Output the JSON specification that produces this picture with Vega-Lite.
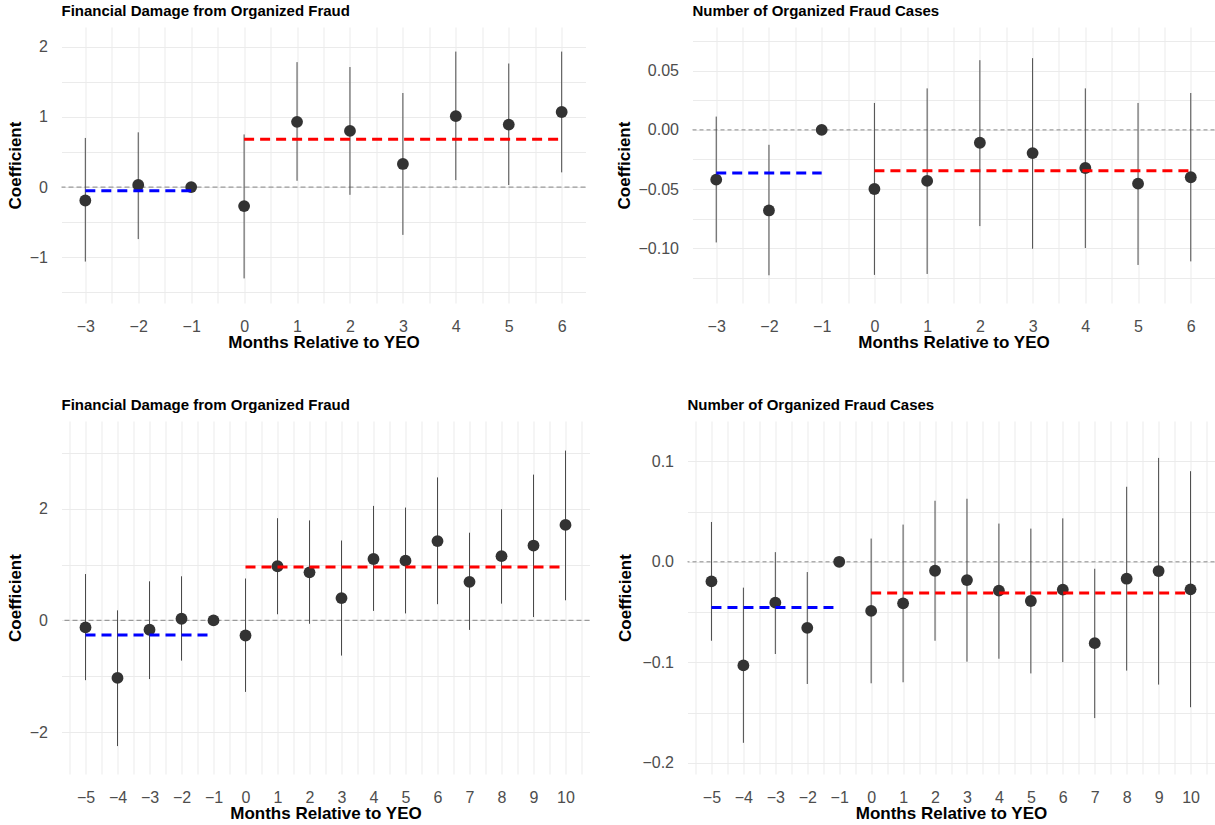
{
  "$schema": "https://vega.github.io/schema/vega-lite/v6.json",
  "padding": {"left": 6.5, "top": 4, "right": 0, "bottom": 0},
  "autosize": {"type": "pad"},
  "background": "white",
  "datasets": {
    "p1": [
      {"month": -3, "coef": -0.19, "lo": -1.06, "hi": 0.70},
      {"month": -2, "coef": 0.03, "lo": -0.74, "hi": 0.78},
      {"month": -1, "coef": 0, "lo": 0, "hi": 0},
      {"month": 0, "coef": -0.27, "lo": -1.30, "hi": 0.75},
      {"month": 1, "coef": 0.93, "lo": 0.09, "hi": 1.78},
      {"month": 2, "coef": 0.80, "lo": -0.11, "hi": 1.71},
      {"month": 3, "coef": 0.33, "lo": -0.68, "hi": 1.34},
      {"month": 4, "coef": 1.01, "lo": 0.10, "hi": 1.93},
      {"month": 5, "coef": 0.89, "lo": 0.03, "hi": 1.76},
      {"month": 6, "coef": 1.07, "lo": 0.21, "hi": 1.93}
    ],
    "s1": [
      {"period": "pre", "start": -3, "end": -1, "avg": -0.05},
      {"period": "post", "start": 0, "end": 6, "avg": 0.68}
    ],
    "p2": [
      {"month": -3, "coef": -0.042, "lo": -0.095, "hi": 0.0112},
      {"month": -2, "coef": -0.068, "lo": -0.1227, "hi": -0.0126},
      {"month": -1, "coef": 0, "lo": 0, "hi": 0},
      {"month": 0, "coef": -0.0499, "lo": -0.1224, "hi": 0.0227},
      {"month": 1, "coef": -0.0431, "lo": -0.1216, "hi": 0.035},
      {"month": 2, "coef": -0.0109, "lo": -0.0812, "hi": 0.0588},
      {"month": 3, "coef": -0.0196, "lo": -0.1003, "hi": 0.0605},
      {"month": 4, "coef": -0.0322, "lo": -0.0997, "hi": 0.035},
      {"month": 5, "coef": -0.0454, "lo": -0.114, "hi": 0.0227},
      {"month": 6, "coef": -0.040, "lo": -0.111, "hi": 0.0311}
    ],
    "s2": [
      {"period": "pre", "start": -3, "end": -1, "avg": -0.0364},
      {"period": "post", "start": 0, "end": 6, "avg": -0.0345}
    ],
    "p3": [
      {"month": -5, "coef": -0.125, "lo": -1.07, "hi": 0.83},
      {"month": -4, "coef": -1.03, "lo": -2.25, "hi": 0.18},
      {"month": -3, "coef": -0.167, "lo": -1.05, "hi": 0.70},
      {"month": -2, "coef": 0.03, "lo": -0.72, "hi": 0.79},
      {"month": -1, "coef": 0, "lo": 0, "hi": 0},
      {"month": 0, "coef": -0.27, "lo": -1.28, "hi": 0.75},
      {"month": 1, "coef": 0.97, "lo": 0.11, "hi": 1.83},
      {"month": 2, "coef": 0.86, "lo": -0.06, "hi": 1.79},
      {"month": 3, "coef": 0.40, "lo": -0.63, "hi": 1.43},
      {"month": 4, "coef": 1.10, "lo": 0.17, "hi": 2.05},
      {"month": 5, "coef": 1.07, "lo": 0.125, "hi": 2.02},
      {"month": 6, "coef": 1.42, "lo": 0.29, "hi": 2.56},
      {"month": 7, "coef": 0.69, "lo": -0.17, "hi": 1.57},
      {"month": 8, "coef": 1.15, "lo": 0.30, "hi": 1.99},
      {"month": 9, "coef": 1.34, "lo": 0.06, "hi": 2.61},
      {"month": 10, "coef": 1.71, "lo": 0.36, "hi": 3.04}
    ],
    "s3": [
      {"period": "pre", "start": -5, "end": -1, "avg": -0.26},
      {"period": "post", "start": 0, "end": 10, "avg": 0.955}
    ],
    "p4": [
      {"month": -5, "coef": -0.0195, "lo": -0.0785, "hi": 0.0396},
      {"month": -4, "coef": -0.103, "lo": -0.180, "hi": -0.0257},
      {"month": -3, "coef": -0.0406, "lo": -0.0917, "hi": 0.0096},
      {"month": -2, "coef": -0.0657, "lo": -0.1215, "hi": -0.0102},
      {"month": -1, "coef": 0, "lo": 0, "hi": 0},
      {"month": 0, "coef": -0.0488, "lo": -0.1208, "hi": 0.0231},
      {"month": 1, "coef": -0.0413, "lo": -0.1198, "hi": 0.037},
      {"month": 2, "coef": -0.0089, "lo": -0.0785, "hi": 0.0607},
      {"month": 3, "coef": -0.0182, "lo": -0.0993, "hi": 0.0627},
      {"month": 4, "coef": -0.0287, "lo": -0.0964, "hi": 0.038},
      {"month": 5, "coef": -0.039, "lo": -0.111, "hi": 0.033},
      {"month": 6, "coef": -0.0277, "lo": -0.0997, "hi": 0.0432},
      {"month": 7, "coef": -0.0809, "lo": -0.1554, "hi": -0.0069},
      {"month": 8, "coef": -0.0168, "lo": -0.1082, "hi": 0.0746},
      {"month": 9, "coef": -0.0092, "lo": -0.1221, "hi": 0.1033},
      {"month": 10, "coef": -0.0274, "lo": -0.1446, "hi": 0.0901}
    ],
    "s4": [
      {"period": "pre", "start": -5, "end": -1, "avg": -0.0455},
      {"period": "post", "start": 0, "end": 10, "avg": -0.031}
    ]
  },
  "spacing": 47,
  "vconcat": [
    {
      "bounds": "flush",
      "spacing": 107,
      "hconcat": [
        {
          "width": 524, "height": 276,
          "title": {"text": "Financial Damage from Organized Fraud"},
          "layer": [
            {
              "data": {"name": "p1"},
              "transform": [{"filter": "datum.month == -1"}],
              "mark": {"type": "rule", "color": "#9a9a9a", "strokeWidth": 1.2, "strokeDash": [5, 3]},
              "encoding": {
                "y": {"datum": 0, "type": "quantitative",
                  "scale": {"domain": [-1.65, 2.28], "nice": false, "zero": false},
                  "axis": {"title": "Coefficient", "values": [-1.5, -1, -0.5, 0, 0.5, 1, 1.5, 2],
                    "labelExpr": "datum.value % 1 == 0 ? format(datum.value, 'd') : ''",
                    "titleX": -41, "titleY": 138}}
              }
            },
            {
              "data": {"name": "p1"},
              "mark": {"type": "rule", "color": "#4a4a4a", "strokeWidth": 1},
              "encoding": {
                "x": {"field": "month", "type": "quantitative",
                  "scale": {"domain": [-3.45, 6.45], "nice": false, "zero": false},
                  "axis": {"title": "Months Relative to YEO", "values": [-3, -2.5, -2, -1.5, -1, -0.5, 0, 0.5, 1, 1.5, 2, 2.5, 3, 3.5, 4, 4.5, 5, 5.5, 6],
                    "labelExpr": "datum.value % 1 == 0 ? format(datum.value, 'd') : ''"}},
                "y": {"field": "lo", "type": "quantitative",
                  "scale": {"domain": [-1.65, 2.28], "nice": false, "zero": false},
                  "axis": {"title": "Coefficient", "values": [-1.5, -1, -0.5, 0, 0.5, 1, 1.5, 2],
                    "labelExpr": "datum.value % 1 == 0 ? format(datum.value, 'd') : ''",
                    "titleX": -41, "titleY": 138}},
                "y2": {"field": "hi"}
              }
            },
            {
              "data": {"name": "p1"},
              "mark": {"type": "point", "filled": true, "size": 140, "color": "#333333", "opacity": 1},
              "encoding": {
                "x": {"field": "month", "type": "quantitative",
                  "scale": {"domain": [-3.45, 6.45], "nice": false, "zero": false},
                  "axis": {"title": "Months Relative to YEO", "values": [-3, -2.5, -2, -1.5, -1, -0.5, 0, 0.5, 1, 1.5, 2, 2.5, 3, 3.5, 4, 4.5, 5, 5.5, 6],
                    "labelExpr": "datum.value % 1 == 0 ? format(datum.value, 'd') : ''"}},
                "y": {"field": "coef", "type": "quantitative",
                  "scale": {"domain": [-1.65, 2.28], "nice": false, "zero": false},
                  "axis": {"title": "Coefficient", "values": [-1.5, -1, -0.5, 0, 0.5, 1, 1.5, 2],
                    "labelExpr": "datum.value % 1 == 0 ? format(datum.value, 'd') : ''",
                    "titleX": -41, "titleY": 138}}
              }
            },
            {
              "data": {"name": "s1"},
              "mark": {"type": "rule", "strokeWidth": 3, "strokeDash": [10, 6]},
              "encoding": {
                "x": {"field": "start", "type": "quantitative",
                  "scale": {"domain": [-3.45, 6.45], "nice": false, "zero": false},
                  "axis": {"title": "Months Relative to YEO", "values": [-3, -2.5, -2, -1.5, -1, -0.5, 0, 0.5, 1, 1.5, 2, 2.5, 3, 3.5, 4, 4.5, 5, 5.5, 6],
                    "labelExpr": "datum.value % 1 == 0 ? format(datum.value, 'd') : ''"}},
                "x2": {"field": "end"},
                "y": {"field": "avg", "type": "quantitative",
                  "scale": {"domain": [-1.65, 2.28], "nice": false, "zero": false},
                  "axis": {"title": "Coefficient", "values": [-1.5, -1, -0.5, 0, 0.5, 1, 1.5, 2],
                    "labelExpr": "datum.value % 1 == 0 ? format(datum.value, 'd') : ''",
                    "titleX": -41, "titleY": 138}},
                "color": {"field": "period", "type": "nominal", "scale": {"domain": ["pre", "post"], "range": ["#0000ff", "#ff0000"]}, "legend": null}
              }
            }
          ]
        },
        {
          "width": 522, "height": 276,
          "title": {"text": "Number of Organized Fraud Cases"},
          "layer": [
            {
              "data": {"name": "p2"},
              "transform": [{"filter": "datum.month == -1"}],
              "mark": {"type": "rule", "color": "#6e6e6e", "strokeWidth": 0.8, "strokeDash": [4, 3]},
              "encoding": {
                "y": {"datum": 0, "type": "quantitative",
                  "scale": {"domain": [-0.1461, 0.0868], "nice": false, "zero": false},
                  "axis": {"title": "Coefficient", "values": [-0.125, -0.1, -0.075, -0.05, -0.025, 0, 0.025, 0.05, 0.075],
                    "labelExpr": "abs(datum.value * 20 - round(datum.value * 20)) < 0.001 ? format(datum.value, '.2f') : ''",
                    "titleX": -63.5, "titleY": 138}}
              }
            },
            {
              "data": {"name": "p2"},
              "mark": {"type": "rule", "color": "#4a4a4a", "strokeWidth": 1},
              "encoding": {
                "x": {"field": "month", "type": "quantitative",
                  "scale": {"domain": [-3.45, 6.45], "nice": false, "zero": false},
                  "axis": {"title": "Months Relative to YEO", "values": [-3, -2.5, -2, -1.5, -1, -0.5, 0, 0.5, 1, 1.5, 2, 2.5, 3, 3.5, 4, 4.5, 5, 5.5, 6],
                    "labelExpr": "datum.value % 1 == 0 ? format(datum.value, 'd') : ''"}},
                "y": {"field": "lo", "type": "quantitative",
                  "scale": {"domain": [-0.1461, 0.0868], "nice": false, "zero": false},
                  "axis": {"title": "Coefficient", "values": [-0.125, -0.1, -0.075, -0.05, -0.025, 0, 0.025, 0.05, 0.075],
                    "labelExpr": "abs(datum.value * 20 - round(datum.value * 20)) < 0.001 ? format(datum.value, '.2f') : ''",
                    "titleX": -63.5, "titleY": 138}},
                "y2": {"field": "hi"}
              }
            },
            {
              "data": {"name": "p2"},
              "mark": {"type": "point", "filled": true, "size": 140, "color": "#333333", "opacity": 1},
              "encoding": {
                "x": {"field": "month", "type": "quantitative",
                  "scale": {"domain": [-3.45, 6.45], "nice": false, "zero": false},
                  "axis": {"title": "Months Relative to YEO", "values": [-3, -2.5, -2, -1.5, -1, -0.5, 0, 0.5, 1, 1.5, 2, 2.5, 3, 3.5, 4, 4.5, 5, 5.5, 6],
                    "labelExpr": "datum.value % 1 == 0 ? format(datum.value, 'd') : ''"}},
                "y": {"field": "coef", "type": "quantitative",
                  "scale": {"domain": [-0.1461, 0.0868], "nice": false, "zero": false},
                  "axis": {"title": "Coefficient", "values": [-0.125, -0.1, -0.075, -0.05, -0.025, 0, 0.025, 0.05, 0.075],
                    "labelExpr": "abs(datum.value * 20 - round(datum.value * 20)) < 0.001 ? format(datum.value, '.2f') : ''",
                    "titleX": -63.5, "titleY": 138}}
              }
            },
            {
              "data": {"name": "s2"},
              "mark": {"type": "rule", "strokeWidth": 3, "strokeDash": [10, 6]},
              "encoding": {
                "x": {"field": "start", "type": "quantitative",
                  "scale": {"domain": [-3.45, 6.45], "nice": false, "zero": false},
                  "axis": {"title": "Months Relative to YEO", "values": [-3, -2.5, -2, -1.5, -1, -0.5, 0, 0.5, 1, 1.5, 2, 2.5, 3, 3.5, 4, 4.5, 5, 5.5, 6],
                    "labelExpr": "datum.value % 1 == 0 ? format(datum.value, 'd') : ''"}},
                "x2": {"field": "end"},
                "y": {"field": "avg", "type": "quantitative",
                  "scale": {"domain": [-0.1461, 0.0868], "nice": false, "zero": false},
                  "axis": {"title": "Coefficient", "values": [-0.125, -0.1, -0.075, -0.05, -0.025, 0, 0.025, 0.05, 0.075],
                    "labelExpr": "abs(datum.value * 20 - round(datum.value * 20)) < 0.001 ? format(datum.value, '.2f') : ''",
                    "titleX": -63.5, "titleY": 138}},
                "color": {"field": "period", "type": "nominal", "scale": {"domain": ["pre", "post"], "range": ["#0000ff", "#ff0000"]}, "legend": null}
              }
            }
          ]
        }
      ]
    },
    {
      "bounds": "flush",
      "spacing": 98,
      "hconcat": [
        {
          "width": 528, "height": 353,
          "title": {"text": "Financial Damage from Organized Fraud"},
          "layer": [
            {
              "data": {"name": "p3"},
              "transform": [{"filter": "datum.month == -1"}],
              "mark": {"type": "rule", "color": "#9a9a9a", "strokeWidth": 1.2, "strokeDash": [5, 3]},
              "encoding": {
                "y": {"datum": 0, "type": "quantitative",
                  "scale": {"domain": [-2.75, 3.57], "nice": false, "zero": false},
                  "axis": {"title": "Coefficient", "values": [-2, -1, 0, 1, 2, 3],
                    "labelExpr": "abs(datum.value % 2) < 0.001 ? format(datum.value, 'd') : ''",
                    "titleX": -41, "titleY": 176.5}}
              }
            },
            {
              "data": {"name": "p3"},
              "mark": {"type": "rule", "color": "#4a4a4a", "strokeWidth": 1},
              "encoding": {
                "x": {"field": "month", "type": "quantitative",
                  "scale": {"domain": [-5.75, 10.75], "nice": false, "zero": false},
                  "axis": {"title": "Months Relative to YEO", "values": [-5.5, -5, -4.5, -4, -3.5, -3, -2.5, -2, -1.5, -1, -0.5, 0, 0.5, 1, 1.5, 2, 2.5, 3, 3.5, 4, 4.5, 5, 5.5, 6, 6.5, 7, 7.5, 8, 8.5, 9, 9.5, 10, 10.5],
                    "labelExpr": "datum.value % 1 == 0 ? format(datum.value, 'd') : ''"}},
                "y": {"field": "lo", "type": "quantitative",
                  "scale": {"domain": [-2.75, 3.57], "nice": false, "zero": false},
                  "axis": {"title": "Coefficient", "values": [-2, -1, 0, 1, 2, 3],
                    "labelExpr": "abs(datum.value % 2) < 0.001 ? format(datum.value, 'd') : ''",
                    "titleX": -41, "titleY": 176.5}},
                "y2": {"field": "hi"}
              }
            },
            {
              "data": {"name": "p3"},
              "mark": {"type": "point", "filled": true, "size": 140, "color": "#333333", "opacity": 1},
              "encoding": {
                "x": {"field": "month", "type": "quantitative",
                  "scale": {"domain": [-5.75, 10.75], "nice": false, "zero": false},
                  "axis": {"title": "Months Relative to YEO", "values": [-5.5, -5, -4.5, -4, -3.5, -3, -2.5, -2, -1.5, -1, -0.5, 0, 0.5, 1, 1.5, 2, 2.5, 3, 3.5, 4, 4.5, 5, 5.5, 6, 6.5, 7, 7.5, 8, 8.5, 9, 9.5, 10, 10.5],
                    "labelExpr": "datum.value % 1 == 0 ? format(datum.value, 'd') : ''"}},
                "y": {"field": "coef", "type": "quantitative",
                  "scale": {"domain": [-2.75, 3.57], "nice": false, "zero": false},
                  "axis": {"title": "Coefficient", "values": [-2, -1, 0, 1, 2, 3],
                    "labelExpr": "abs(datum.value % 2) < 0.001 ? format(datum.value, 'd') : ''",
                    "titleX": -41, "titleY": 176.5}}
              }
            },
            {
              "data": {"name": "s3"},
              "mark": {"type": "rule", "strokeWidth": 3, "strokeDash": [10, 6]},
              "encoding": {
                "x": {"field": "start", "type": "quantitative",
                  "scale": {"domain": [-5.75, 10.75], "nice": false, "zero": false},
                  "axis": {"title": "Months Relative to YEO", "values": [-5.5, -5, -4.5, -4, -3.5, -3, -2.5, -2, -1.5, -1, -0.5, 0, 0.5, 1, 1.5, 2, 2.5, 3, 3.5, 4, 4.5, 5, 5.5, 6, 6.5, 7, 7.5, 8, 8.5, 9, 9.5, 10, 10.5],
                    "labelExpr": "datum.value % 1 == 0 ? format(datum.value, 'd') : ''"}},
                "x2": {"field": "end"},
                "y": {"field": "avg", "type": "quantitative",
                  "scale": {"domain": [-2.75, 3.57], "nice": false, "zero": false},
                  "axis": {"title": "Coefficient", "values": [-2, -1, 0, 1, 2, 3],
                    "labelExpr": "abs(datum.value % 2) < 0.001 ? format(datum.value, 'd') : ''",
                    "titleX": -41, "titleY": 176.5}},
                "color": {"field": "period", "type": "nominal", "scale": {"domain": ["pre", "post"], "range": ["#0000ff", "#ff0000"]}, "legend": null}
              }
            }
          ]
        },
        {
          "width": 527, "height": 353,
          "title": {"text": "Number of Organized Fraud Cases"},
          "layer": [
            {
              "data": {"name": "p4"},
              "transform": [{"filter": "datum.month == -1"}],
              "mark": {"type": "rule", "color": "#6e6e6e", "strokeWidth": 0.8, "strokeDash": [4, 3]},
              "encoding": {
                "y": {"datum": 0, "type": "quantitative",
                  "scale": {"domain": [-0.211, 0.14], "nice": false, "zero": false},
                  "axis": {"title": "Coefficient", "values": [-0.2, -0.15, -0.1, -0.05, 0, 0.05, 0.1],
                    "labelExpr": "abs(datum.value * 10 - round(datum.value * 10)) < 0.001 ? format(datum.value, '.1f') : ''",
                    "titleX": -57, "titleY": 176.5}}
              }
            },
            {
              "data": {"name": "p4"},
              "mark": {"type": "rule", "color": "#4a4a4a", "strokeWidth": 1},
              "encoding": {
                "x": {"field": "month", "type": "quantitative",
                  "scale": {"domain": [-5.75, 10.75], "nice": false, "zero": false},
                  "axis": {"title": "Months Relative to YEO", "values": [-5.5, -5, -4.5, -4, -3.5, -3, -2.5, -2, -1.5, -1, -0.5, 0, 0.5, 1, 1.5, 2, 2.5, 3, 3.5, 4, 4.5, 5, 5.5, 6, 6.5, 7, 7.5, 8, 8.5, 9, 9.5, 10, 10.5],
                    "labelExpr": "datum.value % 1 == 0 ? format(datum.value, 'd') : ''"}},
                "y": {"field": "lo", "type": "quantitative",
                  "scale": {"domain": [-0.211, 0.14], "nice": false, "zero": false},
                  "axis": {"title": "Coefficient", "values": [-0.2, -0.15, -0.1, -0.05, 0, 0.05, 0.1],
                    "labelExpr": "abs(datum.value * 10 - round(datum.value * 10)) < 0.001 ? format(datum.value, '.1f') : ''",
                    "titleX": -57, "titleY": 176.5}},
                "y2": {"field": "hi"}
              }
            },
            {
              "data": {"name": "p4"},
              "mark": {"type": "point", "filled": true, "size": 140, "color": "#333333", "opacity": 1},
              "encoding": {
                "x": {"field": "month", "type": "quantitative",
                  "scale": {"domain": [-5.75, 10.75], "nice": false, "zero": false},
                  "axis": {"title": "Months Relative to YEO", "values": [-5.5, -5, -4.5, -4, -3.5, -3, -2.5, -2, -1.5, -1, -0.5, 0, 0.5, 1, 1.5, 2, 2.5, 3, 3.5, 4, 4.5, 5, 5.5, 6, 6.5, 7, 7.5, 8, 8.5, 9, 9.5, 10, 10.5],
                    "labelExpr": "datum.value % 1 == 0 ? format(datum.value, 'd') : ''"}},
                "y": {"field": "coef", "type": "quantitative",
                  "scale": {"domain": [-0.211, 0.14], "nice": false, "zero": false},
                  "axis": {"title": "Coefficient", "values": [-0.2, -0.15, -0.1, -0.05, 0, 0.05, 0.1],
                    "labelExpr": "abs(datum.value * 10 - round(datum.value * 10)) < 0.001 ? format(datum.value, '.1f') : ''",
                    "titleX": -57, "titleY": 176.5}}
              }
            },
            {
              "data": {"name": "s4"},
              "mark": {"type": "rule", "strokeWidth": 3, "strokeDash": [10, 6]},
              "encoding": {
                "x": {"field": "start", "type": "quantitative",
                  "scale": {"domain": [-5.75, 10.75], "nice": false, "zero": false},
                  "axis": {"title": "Months Relative to YEO", "values": [-5.5, -5, -4.5, -4, -3.5, -3, -2.5, -2, -1.5, -1, -0.5, 0, 0.5, 1, 1.5, 2, 2.5, 3, 3.5, 4, 4.5, 5, 5.5, 6, 6.5, 7, 7.5, 8, 8.5, 9, 9.5, 10, 10.5],
                    "labelExpr": "datum.value % 1 == 0 ? format(datum.value, 'd') : ''"}},
                "x2": {"field": "end"},
                "y": {"field": "avg", "type": "quantitative",
                  "scale": {"domain": [-0.211, 0.14], "nice": false, "zero": false},
                  "axis": {"title": "Coefficient", "values": [-0.2, -0.15, -0.1, -0.05, 0, 0.05, 0.1],
                    "labelExpr": "abs(datum.value * 10 - round(datum.value * 10)) < 0.001 ? format(datum.value, '.1f') : ''",
                    "titleX": -57, "titleY": 176.5}},
                "color": {"field": "period", "type": "nominal", "scale": {"domain": ["pre", "post"], "range": ["#0000ff", "#ff0000"]}, "legend": null}
              }
            }
          ]
        }
      ]
    }
  ],
  "config": {
    "view": {"stroke": null},
    "font": "Liberation Sans",
    "axis": {
      "domain": false, "ticks": false, "tickSize": 0,
      "grid": true, "gridColor": "#ebebeb", "gridWidth": 1,
      "labelFont": "Liberation Sans", "labelFontSize": 16, "labelColor": "#4d4d4d",
      "labelOverlap": false, "labelFlush": false, "labelBound": false,
      "titleFont": "Liberation Sans", "titleFontSize": 17, "titleFontWeight": "bold", "titleColor": "#000000"
    },
    "axisX": {"labelPadding": 15, "titleY": 44.7, "titleBaseline": "alphabetic"},
    "axisY": {"labelPadding": 14, "titleBaseline": "alphabetic"},
    "title": {"anchor": "start", "frame": "group", "baseline": "alphabetic", "offset": 8, "fontSize": 15, "fontWeight": "bold", "color": "#000000", "font": "Liberation Sans"}
  }
}
